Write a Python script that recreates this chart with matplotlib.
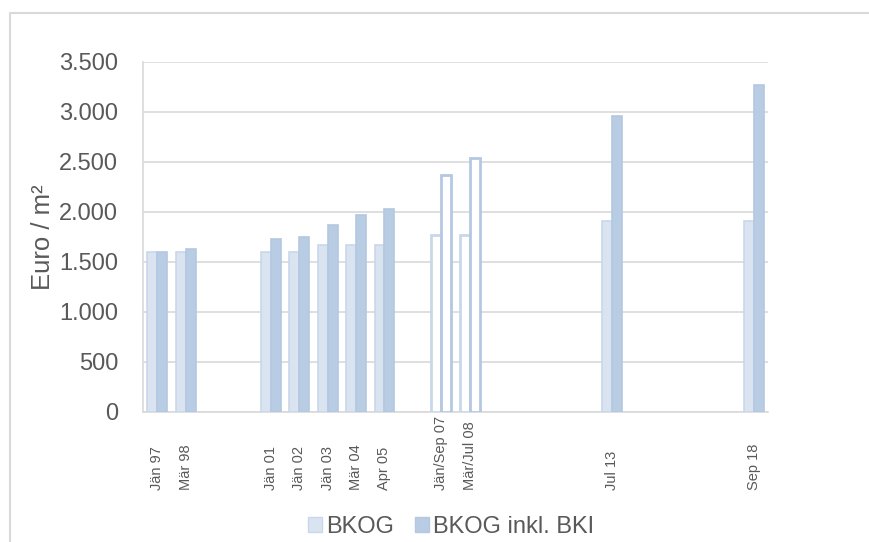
import numpy as np
import matplotlib.pyplot as plt
from matplotlib.lines import Line2D
from matplotlib.patches import Patch

plt.rcParams['font.family'] = ['Liberation Sans', 'DejaVu Sans']

# category axis with empty slots for the time gaps
categories = ['Jän 97', 'Mär 98', '', '', 'Jän 01', 'Jän 02', 'Jän 03', 'Mär 04', 'Apr 05', '',
              'Jän/Sep 07', 'Mär/Jul 08', '', '', '', '', 'Jul 13', '', '', '', '', 'Sep 18']
bkog = [1600, 1600, np.nan, np.nan, 1600, 1600, 1670, 1670, 1670, np.nan,
        1770, 1770, np.nan, np.nan, np.nan, np.nan, 1910, np.nan, np.nan, np.nan, np.nan, 1910]
bkog_bki = [1600, 1630, np.nan, np.nan, 1730, 1750, 1870, 1970, 2030, np.nan,
            2370, 2540, np.nan, np.nan, np.nan, np.nan, 2960, np.nan, np.nan, np.nan, np.nan, 3270]
hollow = ['Jän/Sep 07', 'Mär/Jul 08']

c_light = '#dae3f0'
c_light_edge = '#c9d7eb'
c_dark = '#b8cce4'
c_dark_edge = '#b4c8e2'
txt = '#595959'
grid = '#d9d9d9'

fig = plt.figure(figsize=(8.7, 5.42), dpi=100)
ax = fig.add_axes([143/870, 1-412/542, (768-143)/870, (412-62)/542])

x = np.arange(len(categories))
w = 0.35
fill1 = ['white' if c in hollow else c_light for c in categories]
fill2 = ['white' if c in hollow else c_dark for c in categories]
lw = [2.0 if c in hollow else 1.2 for c in categories]
ax.bar(x - w/2, bkog, w, color=fill1, edgecolor=c_light_edge, linewidth=lw, zorder=3)
ax.bar(x + w/2, bkog_bki, w, color=fill2, edgecolor=c_dark_edge, linewidth=lw, zorder=3)

ax.set_xlim(-0.5, len(categories) - 0.5)
ax.set_ylim(0, 3500)
ax.set_yticks(np.arange(0, 3501, 500))
ax.set_yticklabels([f'{v:,}'.replace(',', '.') for v in range(0, 3501, 500)])
ax.yaxis.grid(True, color=grid, linewidth=1.2, zorder=0)
ax.set_axisbelow(True)

ax.set_xticks(x)
ax.set_xticklabels(categories, rotation=90, fontsize=10.5, color=txt, va='bottom')
ax.tick_params(axis='x', length=0, pad=56)
ax.tick_params(axis='y', length=0, pad=18, labelsize=17, labelcolor=txt)
ax.set_ylabel('Euro / m²', fontsize=18.5, color=txt, labelpad=3)

for s in ['top', 'right']:
    ax.spines[s].set_visible(False)
ax.spines['left'].set_color(grid)
ax.spines['bottom'].set_color(grid)
ax.spines['left'].set_linewidth(1.2)
ax.spines['bottom'].set_linewidth(1.2)

handles = [Patch(facecolor=c_light, edgecolor=c_light_edge), Patch(facecolor=c_dark, edgecolor=c_dark_edge)]
fig.legend(handles, ['BKOG', 'BKOG inkl. BKI'], loc='center', bbox_to_anchor=(451/870, 1-527/542),
           ncol=2, frameon=False, fontsize=17, labelcolor=txt, handlelength=0.6, handleheight=0.6,
           handletextpad=0.15, columnspacing=0.9)

# outer chart frame (left and top edges visible)
fig.add_artist(Line2D([10/870, 10/870, 1.2], [-0.2, 1-13/542, 1-13/542], transform=fig.transFigure,
                      color=grid, linewidth=1.5))

fig.savefig('out.png', dpi=100)
